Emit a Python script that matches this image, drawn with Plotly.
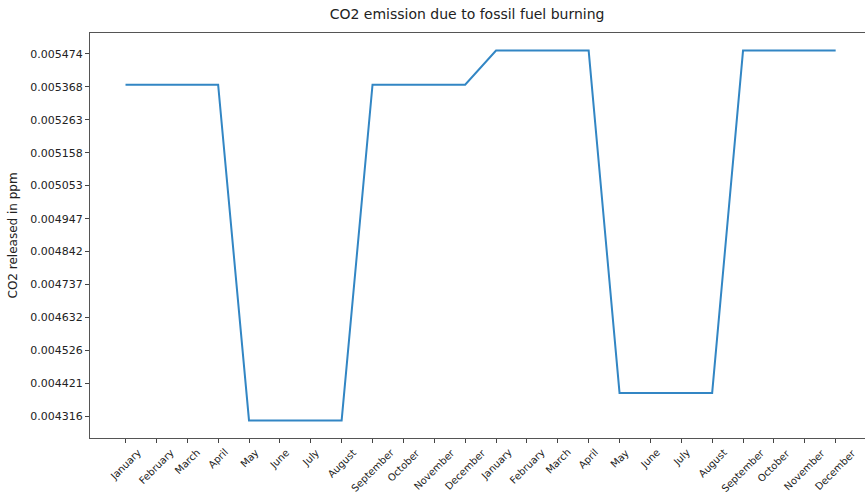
import plotly.graph_objects as go

months = ["January", "February", "March", "April", "May", "June", "July",
          "August", "September", "October", "November", "December"]
x_labels = months + months
co2_ppm = [0.005375, 0.005375, 0.005375, 0.005375,
           0.004303, 0.004303, 0.004303, 0.004303,
           0.005375, 0.005375, 0.005375, 0.005375,
           0.005484, 0.005484, 0.005484, 0.005484,
           0.004391, 0.004391, 0.004391, 0.004391,
           0.005484, 0.005484, 0.005484, 0.005484]
y_ticks = [0.004316, 0.004421, 0.004526, 0.004632, 0.004737, 0.004842,
           0.004947, 0.005053, 0.005158, 0.005263, 0.005368, 0.005474]
y_tick_text = ["%.6f" % v for v in y_ticks]

x_idx = list(range(len(x_labels)))
FONT = "DejaVu Sans"

fig = go.Figure()
fig.add_trace(go.Scatter(x=x_idx, y=co2_ppm, mode="lines",
                         line=dict(color="#3286c4", width=2),
                         showlegend=False, hoverinfo="skip"))

annotations = []
for i, lab in zip(x_idx, x_labels):
    annotations.append(dict(x=i, xref="x", y=0, yref="paper", yshift=-6,
                            text=lab, showarrow=False, textangle=-45,
                            xanchor="center", yanchor="top",
                            font=dict(family=FONT, size=10, color="#222")))
annotations.append(dict(x=0, xref="paper", xshift=-78, y=0.5, yref="paper",
                        text="CO2 released in ppm", showarrow=False,
                        textangle=-90, xanchor="center", yanchor="middle",
                        font=dict(family=FONT, size=12, color="#222")))

fig.update_layout(
    width=865, height=496,
    margin=dict(l=90, r=0, t=33, b=58, autoexpand=False),
    paper_bgcolor="white", plot_bgcolor="white",
    title=dict(text="CO2 emission due to fossil fuel burning",
               x=0.54, xanchor="center", y=1 - 14 / 496, yanchor="middle",
               font=dict(family=FONT, size=14, color="#222")),
    annotations=annotations,
    xaxis=dict(range=[-1.15, 23.95], tickvals=x_idx, showticklabels=False,
               ticks="outside", ticklen=4, tickcolor="#444", automargin=False,
               showline=True, linecolor="#555", linewidth=1.2, mirror=True,
               showgrid=False, zeroline=False),
    yaxis=dict(range=[0.004247, 0.005540], tickvals=y_ticks, ticktext=y_tick_text,
               ticks="outside", ticklen=4, tickcolor="#444", automargin=False,
               tickfont=dict(family=FONT, size=11, color="#222"),
               showline=True, linecolor="#555", linewidth=1.2,
               showgrid=False, zeroline=False),
)

fig.write_html("out.html", config={"displayModeBar": False},
               post_script="document.body.style.margin='0';document.body.style.overflow='hidden';")
